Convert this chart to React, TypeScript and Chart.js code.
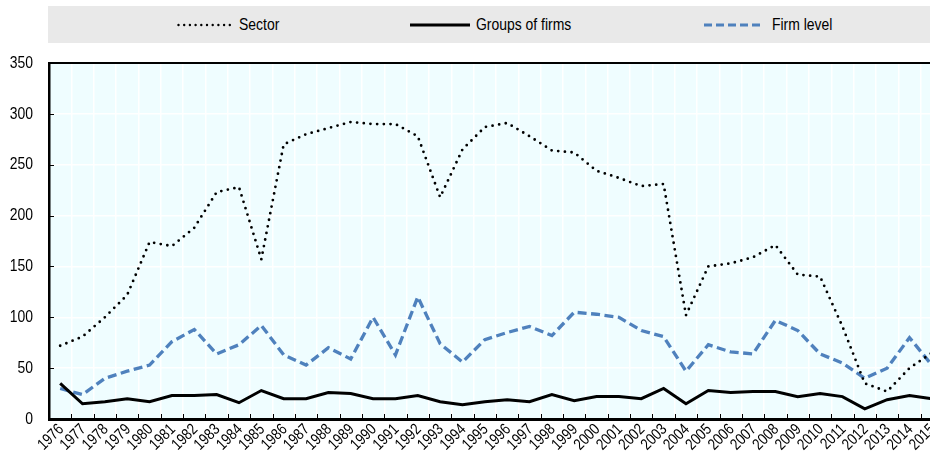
import React, { useEffect, useRef } from "react";
import { Chart, registerables } from "chart.js";

Chart.register(...registerables);

const years: string[] = [
  "1976", "1977", "1978", "1979", "1980", "1981", "1982", "1983", "1984", "1985",
  "1986", "1987", "1988", "1989", "1990", "1991", "1992", "1993", "1994", "1995",
  "1996", "1997", "1998", "1999", "2000", "2001", "2002", "2003", "2004", "2005",
  "2006", "2007", "2008", "2009", "2010", "2011", "2012", "2013", "2014", "2015",
];

const sector: number[] = [
  72, 81, 100, 122, 174, 170, 188, 223, 228, 157,
  270, 280, 286, 292, 290, 290, 278, 218, 265, 287,
  291, 278, 264, 262, 244, 237, 229, 231, 102, 150,
  153, 159, 171, 142, 140, 91, 35, 27, 50, 65,
];

const groupsOfFirms: number[] = [
  35, 15, 17, 20, 17, 23, 23, 24, 16, 28,
  20, 20, 26, 25, 20, 20, 23, 17, 14, 17,
  19, 17, 24, 18, 22, 22, 20, 30, 15, 28,
  26, 27, 27, 22, 25, 22, 10, 19, 23, 20,
];

const firmLevel: number[] = [
  30, 24, 40, 47, 53, 76, 88, 64, 73, 92,
  63, 53, 70, 59, 100, 63, 120, 74, 56, 78,
  85, 91, 82, 105, 103, 100, 87, 81, 47, 73,
  66, 64, 97, 87, 64, 55, 40, 50, 80, 53,
];

const seriesNames: string[] = ["Sector", "Groups of firms", "Firm level"];

const FONT = '"Liberation Sans", Arial, sans-serif';
const NARROW = 0.82;
const BLUE = "#4F81BD";

export default function App() {
  const ref = useRef<HTMLCanvasElement>(null);

  useEffect(() => {
    const canvas = ref.current;
    if (!canvas) return;

    const bgPlugin = {
      id: "plotBg",
      beforeDraw(chart: any) {
        const { ctx, chartArea: a } = chart;
        ctx.save();
        ctx.fillStyle = "#EFFDFF";
        ctx.fillRect(a.left, a.top, a.right - a.left, a.bottom - a.top);
        ctx.restore();
      },
    };

    const framePlugin = {
      id: "frame",
      afterDraw(chart: any) {
        const { ctx, chartArea: a, scales } = chart;
        const xs = scales.x;
        const ys = scales.y;
        ctx.save();
        ctx.strokeStyle = "#000";
        ctx.lineWidth = 2;
        ctx.beginPath();
        ctx.moveTo(a.left - 1, a.top);
        ctx.lineTo(a.right, a.top);
        ctx.stroke();
        ctx.lineWidth = 1;
        ctx.beginPath();
        ys.ticks.forEach((_t: any, i: number) => {
          const py = Math.round(ys.getPixelForTick(i)) + 0.5;
          ctx.moveTo(a.left, py);
          ctx.lineTo(a.left + 5, py);
        });
        for (let i = 0; i <= years.length; i++) {
          const px = Math.round(xs.getPixelForValue(i - 0.5)) + 0.5;
          ctx.moveTo(px, a.bottom);
          ctx.lineTo(px, a.bottom - 5);
        }
        ctx.stroke();

        // condensed tick labels (Arial Narrow look)
        ctx.fillStyle = "#000";
        ctx.textAlign = "right";
        ctx.textBaseline = "middle";
        ctx.font = `17px ${FONT}`;
        ys.ticks.forEach((t: any, i: number) => {
          const py = ys.getPixelForTick(i);
          ctx.save();
          ctx.translate(a.left - 16, py);
          ctx.scale(NARROW, 1);
          ctx.fillText(String(t.value), 0, 0);
          ctx.restore();
        });
        ctx.font = `16px ${FONT}`;
        xs.ticks.forEach((_t: any, i: number) => {
          const px = xs.getPixelForTick(i);
          ctx.save();
          ctx.translate(px + 1, a.bottom + 8);
          ctx.rotate(-Math.PI / 4);
          ctx.scale(NARROW, 1);
          ctx.fillText(years[i], 0, 0);
          ctx.restore();
        });
        ctx.restore();
      },
    };

    const chart = new Chart(canvas, {
      type: "line",
      data: {
        labels: years,
        datasets: [
          {
            label: seriesNames[0],
            data: sector,
            borderColor: "#000",
            borderWidth: 2.8,
            borderDash: [0, 6.7],
            borderCapStyle: "round",
            pointRadius: 0,
            fill: false,
            tension: 0,
          },
          {
            label: seriesNames[1],
            data: groupsOfFirms,
            borderColor: "#000",
            borderWidth: 3,
            pointRadius: 0,
            fill: false,
            tension: 0,
          },
          {
            label: seriesNames[2],
            data: firmLevel,
            borderColor: BLUE,
            borderWidth: 3.3,
            borderDash: [9, 4.5],
            pointRadius: 0,
            fill: false,
            tension: 0,
          },
        ],
      },
      options: {
        responsive: false,
        animation: false,
        devicePixelRatio: 1,
        layout: { padding: { top: 63, right: 7, left: 0, bottom: 0 } },
        plugins: {
          legend: { display: false },
          tooltip: { enabled: false },
        },
        scales: {
          x: {
            type: "category",
            offset: true,
            grid: { offset: true, color: "#ffffff", lineWidth: 1.5, drawTicks: false },
            border: { color: "#000", width: 3 },
            ticks: { display: false, autoSkip: false },
            afterFit: (s: any) => {
              s.height = 38;
            },
          },
          y: {
            min: 0,
            max: 350,
            ticks: { display: false, stepSize: 50 },
            grid: { color: "#ffffff", lineWidth: 1.5, drawTicks: false },
            border: { color: "#000", width: 2.5 },
            afterFit: (s: any) => {
              s.width = 49;
            },
          },
        },
      },
      plugins: [bgPlugin, framePlugin],
    } as any);

    return () => {
      chart.destroy();
    };
  }, []);

  const legendText: React.CSSProperties = {
    position: "absolute",
    top: 0,
    height: 37,
    lineHeight: "37px",
    fontFamily: FONT,
    fontSize: 17,
    color: "#000",
    whiteSpace: "nowrap",
    transform: `scaleX(${NARROW})`,
    transformOrigin: "left center",
  };
  const sample = (left: number, width: number, kind: number) => (
    <svg style={{ position: "absolute", left, top: 0 }} width={width} height={37}>
      {kind === 0 && (
        <line x1={1.5} y1={19} x2={width} y2={19} stroke="#000" strokeWidth={2.4} strokeDasharray="0 5.7" strokeLinecap="round" />
      )}
      {kind === 1 && <line x1={0} y1={19} x2={width} y2={19} stroke="#000" strokeWidth={3.2} />}
      {kind === 2 && (
        <line x1={0} y1={19} x2={width} y2={19} stroke={BLUE} strokeWidth={3.2} strokeDasharray="8 4" />
      )}
    </svg>
  );

  return (
    <div
      style={{
        position: "absolute",
        left: 0,
        top: 0,
        width: 930,
        height: 457,
        overflow: "hidden",
        background: "#fff",
      }}
    >
      <canvas ref={ref} width={950} height={457} style={{ position: "absolute", left: 0, top: 0, width: 950, height: 457 }} />
      <div
        style={{
          position: "absolute",
          left: 48,
          top: 6,
          width: 900,
          height: 37,
          background: "#E9E9E9",
        }}
      >
        {sample(177 - 48, 56, 0)}
        <div style={{ ...legendText, left: 239 - 48 }}>{seriesNames[0]}</div>
        {sample(410 - 48, 60, 1)}
        <div style={{ ...legendText, left: 476 - 48 }}>{seriesNames[1]}</div>
        {sample(704 - 48, 59, 2)}
        <div style={{ ...legendText, left: 772 - 48 }}>{seriesNames[2]}</div>
      </div>
    </div>
  );
}
